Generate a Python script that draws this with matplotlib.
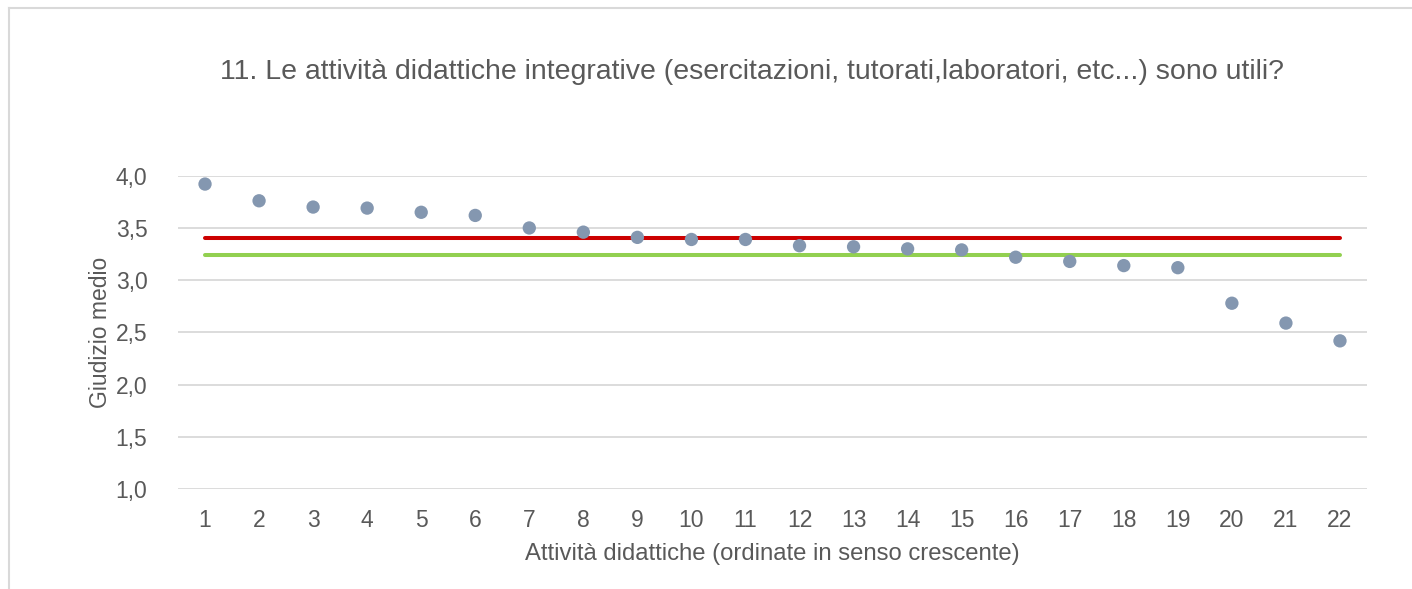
import matplotlib.pyplot as plt
from matplotlib.lines import Line2D

plt.rcParams['font.family'] = ['Liberation Sans', 'DejaVu Sans']

# dati
attivita = list(range(1, 23))
giudizio = [3.92, 3.76, 3.70, 3.69, 3.65, 3.62, 3.50, 3.46, 3.41, 3.39, 3.39,
            3.33, 3.32, 3.30, 3.29, 3.22, 3.18, 3.14, 3.12, 2.78, 2.59, 2.42]
media_rossa = 3.40
media_verde = 3.24

titolo = "11. Le attività didattiche integrative (esercitazioni, tutorati,laboratori, etc...) sono utili?"
xlab = "Attività didattiche (ordinate in senso crescente)"
ylab = "Giudizio medio"
yticks = [1.0, 1.5, 2.0, 2.5, 3.0, 3.5, 4.0]

grigio = '#595959'

fig = plt.figure(figsize=(14.12, 5.89), dpi=100)
ax = fig.add_axes([178/1412, 1-489.3/589, (1367-178)/1412, (489.3-175.7)/589])

ax.plot([attivita[0], attivita[-1]], [media_rossa]*2, color='#CC0000', lw=2.9,
        solid_capstyle='round', zorder=2)
ax.plot([attivita[0], attivita[-1]], [media_verde]*2, color='#92D050', lw=2.9,
        solid_capstyle='round', zorder=2)
ax.scatter(attivita, giudizio, s=92, color='#8497B0', edgecolors='none', zorder=3)

ax.set_xlim(0.5, 22.5)
ax.set_ylim(1.0, 4.0)
ax.set_xticks(attivita)
ax.set_yticks(yticks)
ax.set_yticklabels([('%.1f' % v).replace('.', ',') for v in yticks])
ax.tick_params(length=0, labelsize=16.5, colors=grigio, pad=14)
ax.tick_params(axis='y', pad=22)
ax.grid(axis='y', color='#D9D9D9', lw=1.3, zorder=0)
ax.set_axisbelow(True)
for s in ax.spines.values():
    s.set_visible(False)

ax.set_xlabel(xlab, fontsize=17.2, color=grigio, labelpad=8)
ax.set_ylabel(ylab, fontsize=16.5, color=grigio, labelpad=3)
fig.text(752/1412, 1-72/589, titolo, fontsize=20.5, color=grigio,
         ha='center', va='center')

# bordo del grafico
fig.add_artist(Line2D([9/1412, 1], [1-8/589]*2, color='#D9D9D9', lw=1.5))
fig.add_artist(Line2D([9/1412]*2, [0, 1-8/589], color='#D9D9D9', lw=1.5))

fig.savefig('out.png', dpi=100)
